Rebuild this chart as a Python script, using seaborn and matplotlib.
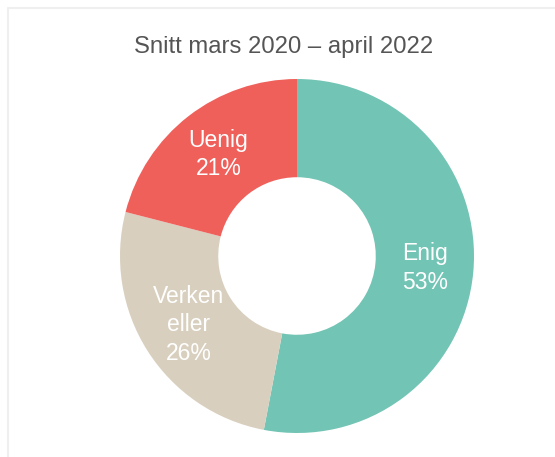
import matplotlib
matplotlib.use("Agg")
import matplotlib.pyplot as plt
from matplotlib.lines import Line2D
import seaborn as sns

# ---- data ----
categories = ["Enig", "Verken\neller", "Uenig"]
values = [53, 26, 21]
colors_hex = ["#72c4b4", "#d8cfbe", "#f0605b"]
title = "Snitt mars 2020 \u2013 april 2022"

sns.set_theme(style="white")
plt.rcParams["font.family"] = ["Liberation Sans", "DejaVu Sans"]
palette = sns.color_palette(colors_hex)

W, H = 555, 457
fig = plt.figure(figsize=(W / 100, H / 100), dpi=100)
fig.patch.set_facecolor("white")

# card border (top and left visible)
fig.add_artist(Line2D([8 / W, 8 / W, 1.0], [0.0, 1 - 8 / H, 1 - 8 / H],
                      transform=fig.transFigure, color="#efefef", lw=1.5))

cx, cy, R = 297, 256, 177
ax = fig.add_axes([(cx - R) / W, (H - cy - R) / H, 2 * R / W, 2 * R / H])

labels_iter = iter(categories)
wedges, texts, autotexts = ax.pie(
    values,
    colors=palette,
    startangle=90,
    counterclock=False,
    radius=1.0,
    wedgeprops=dict(width=0.555, edgecolor="none", linewidth=0),
    autopct=lambda p: f"{next(labels_iter)}\n{p:.0f}%",
    pctdistance=0.725,
    textprops=dict(color="white", fontsize=16.5, linespacing=1.3),
)
for t in autotexts:
    t.set_ha("center")
    t.set_va("center")
    t.set_multialignment("center")

ax.set_xlim(-1, 1)
ax.set_ylim(-1, 1)
ax.set_aspect("equal")
ax.axis("off")

fig.text(284 / W, 1 - 53 / H, title, ha="center", va="baseline",
         fontsize=17.2, color="#555555")

fig.savefig("out.png", dpi=100, facecolor="white")
